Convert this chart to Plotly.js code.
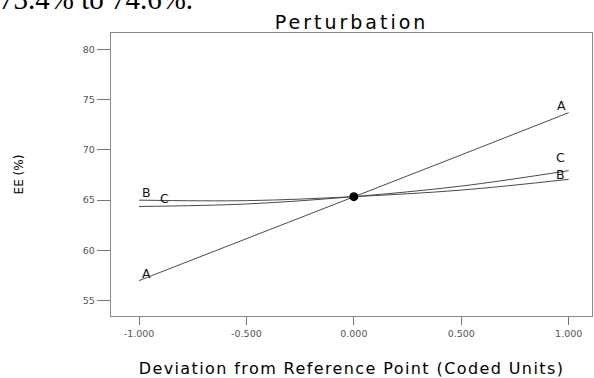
<!DOCTYPE html>
<html>
<head>
<meta charset="utf-8">
<script src="https://cdn.plot.ly/plotly-3.0.1.min.js"></script>
<style>
  html, body { margin: 0; padding: 0; background: #fff; }
  #chart { width: 594px; height: 378px; }
  .gtitle { letter-spacing: 3px; }
  .xtitle { letter-spacing: 1.4px; }
</style>
</head>
<body>
<div id="chart"></div>
<script>
// Coded deviation from reference point
const deviation = [-1, -0.5, 0, 0.5, 1];
// EE (%) traces
const seriesA = [57.0, 61.15, 65.35, 69.5, 73.7];
const seriesB = [65.0, 64.95, 65.35, 66.0, 67.07];
const seriesC = [64.37, 64.62, 65.35, 66.4, 67.93];
// Reference point
const refX = [0];
const refY = [65.35];
// Tick labels
const xTickVals = [-1, -0.5, 0, 0.5, 1];
const xTickText = ['-1.000', '-0.500', '0.000', '0.500', '1.000'];
const yTickVals = [55, 60, 65, 70, 75, 80];
const yTickText = ['55', '60', '65', '70', '75', '80'];

const lineStyle = { color: '#4a4a4a', width: 1 };
const last = deviation.length - 1;

const traces = [
  { x: deviation, y: seriesA, mode: 'lines', line: lineStyle, name: 'A' },
  { x: deviation, y: seriesB, mode: 'lines', line: Object.assign({ shape: 'spline' }, lineStyle), name: 'B' },
  { x: deviation, y: seriesC, mode: 'lines', line: Object.assign({ shape: 'spline' }, lineStyle), name: 'C' },
  { x: refX, y: refY, mode: 'markers', marker: { color: '#000', size: 9 }, name: 'ref' }
];

const labelFont = { family: 'DejaVu Sans', size: 12.5, color: '#111' };
function lab(x, y, t, dx, dy) {
  return { x: x, y: y, text: t, showarrow: false, xshift: dx, yshift: dy, font: labelFont, borderpad: 0 };
}

const layout = {
  width: 594, height: 378,
  margin: { l: 111, r: 2, t: 33, b: 62 },
  paper_bgcolor: '#fff', plot_bgcolor: '#fff',
  showlegend: false,
  title: {
    text: 'Perturbation',
    font: { family: 'DejaVu Sans', size: 19, color: '#000' },
    xref: 'paper', x: 0.5, xanchor: 'center',
    yref: 'container', y: 0.94, yanchor: 'middle'
  },
  xaxis: {
    range: [-1.1304, 1.1085],
    tickvals: xTickVals, ticktext: xTickText,
    ticks: 'outside', ticklen: 8, tickcolor: '#777', tickwidth: 1,
    showline: true, linecolor: '#888', linewidth: 1.3, mirror: true,
    showgrid: false, zeroline: false,
    tickfont: { family: 'DejaVu Sans', size: 9.5, color: '#555' },
    title: { text: 'Deviation from Reference Point (Coded Units)', standoff: 26,
             font: { family: 'DejaVu Sans', size: 16, color: '#000' } }
  },
  yaxis: {
    range: [53.48, 81.62],
    tickvals: yTickVals, ticktext: yTickText,
    ticks: 'outside', ticklen: 13, tickcolor: '#777', tickwidth: 1,
    showline: true, linecolor: '#888', linewidth: 1.3, mirror: true,
    showgrid: false, zeroline: false,
    tickfont: { family: 'DejaVu Sans', size: 9.5, color: '#555' },
    title: { text: 'EE (%)', standoff: 56,
             font: { family: 'DejaVu Sans', size: 12, color: '#000' } }
  },
  annotations: [
    lab(deviation[0], seriesA[0], 'A', 7, 7),
    lab(deviation[last], seriesA[last], 'A', -7, 7),
    lab(deviation[0], seriesB[0], 'B', 7, 7.5),
    lab(deviation[0], seriesC[0], 'C', 25, 8),
    lab(deviation[last], seriesC[last], 'C', -8, 13),
    lab(deviation[last], seriesB[last], 'B', -8, 4.5),
    { xref: 'paper', yref: 'paper', x: -0.237, y: 1.12, xanchor: 'left', yanchor: 'middle',
      text: '73.4% to 74.6%.', showarrow: false,
      font: { family: 'Liberation Serif', size: 29, color: '#000' } }
  ]
};

Plotly.newPlot('chart', traces, layout, { staticPlot: true, displayModeBar: false });
</script>
</body>
</html>
